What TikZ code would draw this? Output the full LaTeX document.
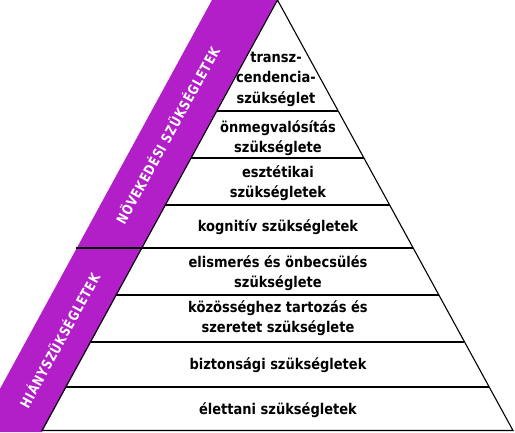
\documentclass[tikz,border=0pt]{standalone}
\usepackage{fontspec}
\setmainfont{DejaVu Sans}
\newfontfamily\levelfont[FakeStretch=0.88]{DejaVu Sans}
\newfontfamily\bandfont[FakeStretch=0.8,LetterSpace=6]{DejaVu Sans}
\usepackage{tikz}
\usetikzlibrary{positioning}
\definecolor{mpurple}{RGB}{178,30,200}
\tikzstyle{level} = [align=center, font=\levelfont\bfseries\fontsize{14.8}{20.5}\selectfont, text=black, inner sep=0pt]
\tikzstyle{bandlabel} = [font=\bandfont\bfseries\fontsize{14}{16}\selectfont, text=white, rotate=61.3, inner sep=0pt]
\tikzstyle{sep} = [line width=1.1pt, black]

\begin{document}
\begin{tikzpicture}[x=1pt,y=-1pt]
\useasboundingbox (0,0) rectangle (515,432);
% Purple band along the left side
\begin{scope}
\clip (0,0) rectangle (515,432);
\fill[mpurple] (212,0) -- (277.5,0) -- (42,432) -- (-23.5,432) -- cycle;
\end{scope}

% Levels
\foreach \y in {111,158,205,295,342,387}
  \draw[sep] ({277.5-0.5464*\y},\y) -- ({277.5+0.5464*\y},\y);
\draw[line width=2.6pt] ({277.5-0.5464*248-65.5},248) -- ({277.5+0.5464*248},248);

% Pyramid
\draw[sep, line join=miter] (42,430.5) -- (277.5,0) -- (513,430.5) -- cycle;

% Texts
\node[level] (transz) at (276,79) {transz-\\cendencia-\\szükséglet};
\node[level] (onmeg) at (278,138) {önmegvalósítás\\szükséglete};
\node[level] (eszt) at (278,183) {esztétikai\\szükségletek};
\node[level] (kogn) at (278,227) {kognitív szükségletek};
\node[level] (elism) at (278,273) {elismerés és önbecsülés\\szükséglete};
\node[level] (kozos) at (278,318) {közösséghez tartozás és\\szeretet szükséglete};
\node[level] (bizt) at (278,365) {biztonsági szükségletek};
\node[level] (elett) at (278,410) {élettani szükségletek};

% Band labels
\node[bandlabel] (novek) at (167,135) {NÖVEKEDÉSI SZÜKSÉGLETEK};
\node[bandlabel] (hiany) at (59,340) {HIÁNYSZÜKSÉGLETEK};
\end{tikzpicture}
\end{document}
